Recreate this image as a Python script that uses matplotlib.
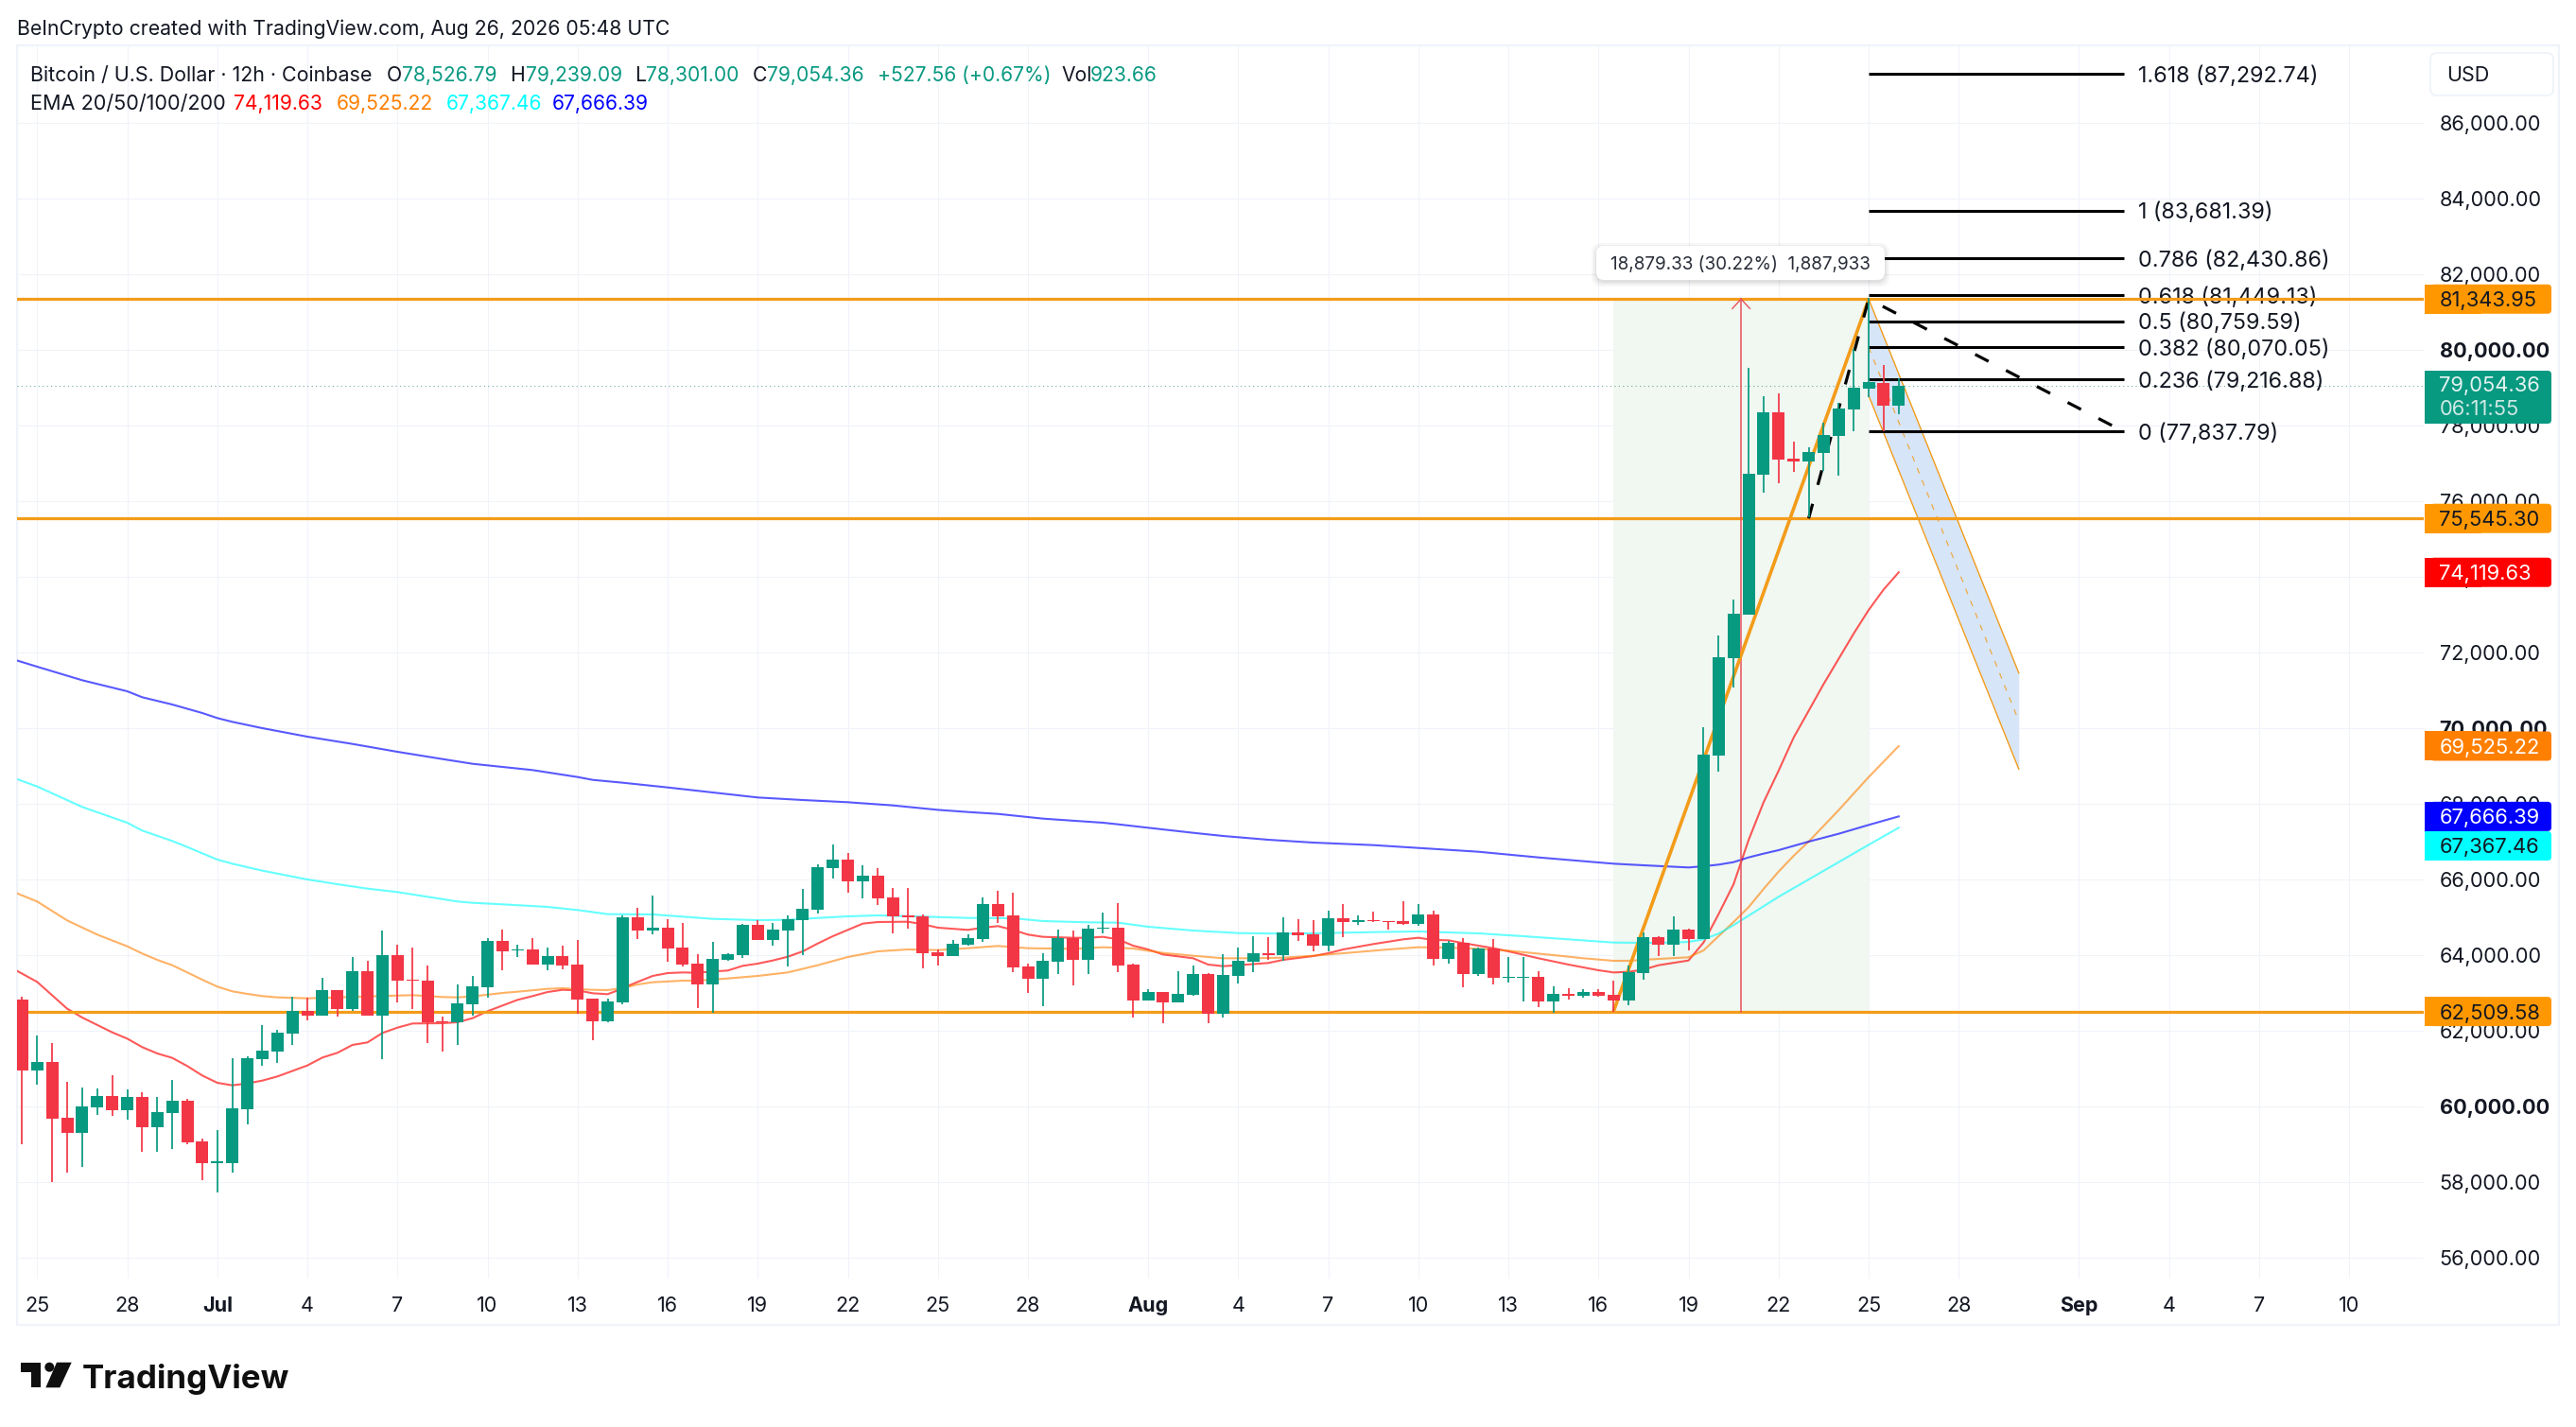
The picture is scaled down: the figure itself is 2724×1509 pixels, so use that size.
import numpy as np
import matplotlib
matplotlib.use("Agg")
import matplotlib.pyplot as plt
from matplotlib.patches import Rectangle, FancyBboxPatch, Circle, Polygon
from matplotlib.transforms import Affine2D

W, H = 2724, 1509
FONT = "Inter"
plt.rcParams["font.family"] = [FONT, "DejaVu Sans"]

# ---------- data ----------
first_bar = -1
opens = [62825, 60950, 61175, 59700, 59308, 59983, 60275, 59908, 60250, 59458,
         59825, 60150, 59075, 58508, 58508, 59933, 61250, 61450, 61925, 62525,
         62408, 63075, 62575, 63575, 62408, 64000, 63350, 63325, 62250, 62225,
         62700, 63150, 64375, 64125, 64150, 63750, 63975, 63750, 62850, 62250,
         62750, 65000, 64650, 64725, 64200, 63775, 63225, 63875, 64000, 64800,
         64400, 64650, 64925, 65200, 66300, 66525, 65950, 66100, 65525, 65050,
         65025, 64075, 63975, 64275, 64425, 65350, 65050, 63700, 63375, 63825,
         64450, 63875, 64700, 64725, 63750, 62800, 63025, 62750, 62950, 63500,
         62450, 63450, 63825, 64050, 64000, 64600, 64550, 64250, 64975, 64875,
         64925, 64900, 64900, 64825, 65075, 63900, 64325, 63500, 64175, 63400,
         63400, 63425, 62775, 62975, 62925, 63025, 62950, 62800, 63525, 64475,
         64275, 64675, 64425, 69283, 71858, 73008, 76708, 78350, 77125, 77050,
         77275, 77725, 78425, 78975, 79125, 78526.79]
highs = [62900, 61875, 61667, 60650, 60500, 60475, 60817, 60442, 60375, 60250,
         60692, 60200, 59150, 59375, 61267, 61333, 62150, 62025, 62900, 62875,
         63400, 63083, 63950, 63850, 64650, 64275, 64200, 63725, 62375, 63225,
         63450, 64450, 64675, 64275, 64450, 64200, 64250, 64400, 62850, 62850,
         65050, 65250, 65575, 64950, 64850, 64025, 64350, 64050, 64825, 64925,
         64850, 65050, 65750, 66400, 66925, 66700, 66375, 66300, 65775, 65775,
         65075, 64150, 64400, 64550, 65525, 65700, 65650, 63783, 64050, 64675,
         64650, 64800, 65125, 65375, 63775, 63100, 63025, 63575, 63725, 63525,
         64025, 64200, 64500, 64475, 65000, 64950, 64925, 65175, 65350, 65050,
         65150, 64900, 65425, 65350, 65175, 64375, 64450, 64200, 64417, 63950,
         63950, 63575, 63175, 63117, 63100, 63100, 63325, 63725, 64600, 64500,
         65025, 64700, 70017, 72458, 73400, 79525, 78775, 78850, 77575, 77417,
         78083, 78600, 80025, 81375, 79600, 79239.09]
lows = [59000, 60583, 58000, 58250, 58400, 59775, 59750, 59650, 58800, 58800,
        58875, 59000, 58050, 57725, 58250, 59525, 61083, 61150, 61625, 62275,
        62400, 62375, 62525, 62400, 61250, 62750, 62575, 61675, 61450, 61625,
        62400, 62875, 63600, 63950, 63750, 63600, 63625, 62450, 61750, 62225,
        62700, 64425, 64550, 63825, 63700, 62600, 62467, 63850, 63925, 64400,
        64250, 63700, 64000, 65100, 66025, 65650, 65500, 65325, 64575, 64700,
        63650, 63725, 63975, 64250, 64350, 64850, 63550, 63000, 62650, 63500,
        63200, 63500, 64575, 63550, 62350, 62800, 62200, 62750, 62925, 62200,
        62350, 63250, 63550, 63875, 63850, 64375, 64100, 64100, 64475, 64800,
        64875, 64675, 64800, 64775, 63725, 63775, 63150, 63450, 63225, 63275,
        62775, 62625, 62475, 62825, 62875, 62900, 62500, 62675, 63350, 63975,
        63975, 64125, 64425, 68858, 71083, 73008, 76233, 76483, 76775, 75567,
        76800, 76683, 77850, 78750, 77850, 78301.00]
closes = [60950, 61175, 59683, 59308, 60000, 60275, 59908, 60250, 59458, 59850,
          60150, 59042, 58508, 58525, 59950, 61275, 61475, 61950, 62525, 62408,
          63075, 62575, 63575, 62408, 64000, 63333, 63325, 62225, 62225, 62725,
          63175, 64375, 64100, 64150, 63750, 63975, 63725, 62825, 62250, 62775,
          65000, 64650, 64725, 64175, 63750, 63225, 63900, 64025, 64800, 64400,
          64675, 64950, 65225, 66325, 66525, 65950, 66100, 65500, 65025, 65000,
          64050, 63975, 64300, 64450, 65350, 65025, 63675, 63375, 63850, 64450,
          63875, 64700, 64725, 63725, 62800, 63025, 62750, 62975, 63500, 62450,
          63475, 63850, 64050, 64000, 64600, 64525, 64250, 64975, 64875, 64925,
          64900, 64875, 64825, 65075, 63900, 64325, 63500, 64175, 63400, 63425,
          63425, 62775, 62975, 62925, 63025, 62925, 62800, 63558, 64475, 64275,
          64675, 64425, 69300, 71875, 73025, 76725, 78350, 77108, 77058, 77300,
          77750, 78450, 79000, 79150, 78525, 79054.36]

ema20_x = [-1.34, 0, 2, 3, 5, 6, 7, 8, 9, 10, 11, 12, 13, 14, 15, 16, 18, 19, 20, 21, 22, 23, 24, 25, 27, 28, 29, 30, 31,
           32, 33, 34, 35, 36, 37, 38, 38.5, 40, 41, 42, 43, 44, 45, 46, 47, 48, 49, 50, 51, 52, 53, 54, 55, 56, 58, 59,
           60, 62, 63, 64, 65, 66, 67, 69, 70, 71, 72, 73, 74, 75, 77, 78, 79, 80, 82, 83, 85, 86, 87, 89, 91, 92, 93, 94,
           95, 96, 97, 98, 100, 102, 104, 105, 106, 107, 108, 110, 111, 112, 113, 114, 115, 116, 117, 118, 119, 120, 121,
           122, 123, 124]
ema20_y = [63583, 63292, 62583, 62350, 61958, 61792, 61567, 61400, 61283, 61067, 60817, 60625, 60558, 60608, 60683, 60792,
           61083, 61292, 61417, 61625, 61692, 61942, 62083, 62192, 62200, 62225, 62333, 62517, 62667, 62817, 62917, 63025,
           63083, 63067, 62992, 62967, 63042, 63292, 63450, 63525, 63542, 63533, 63567, 63592, 63717, 63775, 63858, 63958,
           64100, 64308, 64500, 64667, 64833, 64875, 64883, 64817, 64725, 64667, 64725, 64767, 64667, 64542, 64483, 64458,
           64458, 64483, 64417, 64250, 64150, 64017, 63917, 63750, 63708, 63733, 63792, 63875, 63975, 64050, 64150, 64292,
           64417, 64458, 64400, 64392, 64317, 64250, 64183, 64100, 63917, 63750, 63600, 63542, 63558, 63617, 63733, 63858,
           64333, 65083, 65875, 67042, 68042, 68875, 69750, 70458, 71167, 71833, 72500, 73125, 73667, 74119.63]
ema50_x = [-1.34, 0, 2, 4, 6, 7, 8, 9, 10, 11, 12, 13, 14, 15, 16, 18, 20, 22, 25, 27, 28, 29, 31, 32, 34, 35, 36, 37, 38,
           39, 40, 41, 43, 44, 46, 48, 50, 52, 54, 56, 58, 60, 62, 64, 66, 69, 71, 73, 75, 77, 79, 81, 83, 85, 88, 90, 92,
           94, 96, 98, 101, 103, 105, 106, 108, 110, 111, 112, 113, 114, 115, 116, 117, 118, 120, 122, 124]
ema50_y = [65633, 65417, 64917, 64542, 64233, 64042, 63875, 63733, 63542, 63350, 63167, 63042, 62975, 62917, 62883, 62858,
           62883, 62908, 62942, 62892, 62883, 62908, 63000, 63033, 63108, 63125, 63100, 63083, 63075, 63125, 63225, 63283,
           63325, 63325, 63383, 63450, 63542, 63733, 63950, 64100, 64150, 64133, 64183, 64242, 64183, 64167, 64208, 64175,
           64058, 63983, 63917, 63917, 63933, 63983, 64083, 64150, 64208, 64200, 64167, 64117, 64000, 63917, 63850, 63850,
           63900, 63942, 64125, 64500, 64875, 65267, 65750, 66208, 66625, 67000, 67833, 68708, 69525.22]
ema100_x = [-1.27, 0, 3, 6, 7, 9, 10, 12, 13, 15, 18, 20, 22, 24, 26, 28, 29, 31, 34, 36, 38, 41, 43, 45, 48, 50, 52, 54,
            56, 59, 62, 65, 67, 70, 72, 74, 77, 80, 83, 86, 89, 92, 94, 96, 99, 102, 105, 107, 109, 110, 111, 112, 113, 114,
            116, 118, 120, 122, 124]
ema100_y = [68642, 68458, 67917, 67500, 67292, 67017, 66858, 66525, 66417, 66233, 66000, 65875, 65758, 65667, 65542, 65417,
            65383, 65342, 65275, 65192, 65083, 65075, 65017, 64958, 64925, 64933, 64983, 65025, 65050, 65017, 64983, 64975,
            64900, 64867, 64858, 64750, 64650, 64583, 64567, 64583, 64608, 64625, 64600, 64575, 64500, 64417, 64333, 64325,
            64333, 64350, 64417, 64567, 64792, 65042, 65542, 66000, 66458, 66917, 67367.46]
ema200_x = [-1.3, 0, 3, 6, 7, 9, 11, 12, 13, 15, 18, 21, 24, 27, 29, 33, 36, 37, 39, 42, 45, 48, 51, 54, 57, 60, 62, 64, 67,
            71, 72, 74, 77, 79, 82, 85, 89, 92, 96, 100, 103, 105, 107, 110, 111, 112, 113, 114, 115, 116, 118, 120, 122, 124]
ema200_y = [71783, 71625, 71267, 70975, 70817, 70625, 70400, 70267, 70167, 70000, 69775, 69583, 69375, 69183, 69058, 68892,
            68708, 68633, 68558, 68433, 68300, 68167, 68100, 68042, 67958, 67840, 67783, 67733, 67608, 67500, 67458, 67367,
            67233, 67150, 67050, 66975, 66908, 66833, 66733, 66583, 66483, 66417, 66375, 66317, 66350, 66392, 66458, 66583,
            66683, 66775, 67000, 67208, 67442, 67666.39]

support_levels = [81343.95, 75545.30, 62509.58]
fib_ratios = ["1.618", "1", "0.786", "0.618", "0.5", "0.382", "0.236", "0"]
fib_prices = [87292.74, 83681.39, 82430.86, 81449.13, 80759.59, 80070.05, 79216.88, 77837.79]
last_price = 79054.36
zigzag_x = [105, 122]
zigzag_y = [62509.58, 81343.95]
dash_x = [118, 122, 139]
dash_y = [75545.30, 81343.95, 77837.79]
channel_x = [122, 132]
channel_top = [81343.95, 71458]
channel_bottom = [78790, 68917]
range_x = [105, 122]
range_y = [62509.58, 81343.95]
range_arrow_x = 113.5

tick_pos = [0, 6, 12, 18, 24, 30, 36, 42, 48, 54, 60, 66, 74, 80, 86, 92, 98, 104, 110, 116, 122, 128, 136, 142, 148, 154]
tick_lab = ["25", "28", "Jul", "4", "7", "10", "13", "16", "19", "22", "25", "28", "Aug", "4", "7", "10", "13", "16", "19",
            "22", "25", "28", "Sep", "4", "7", "10"]
y_ticks = list(range(56000, 88000, 2000))
y_bold = [60000, 70000, 80000]

# ---------- colours ----------
UP, DOWN, INK, GRID = "#089981", "#f23645", "#131722", "#f0f3fa"
GOLD = "#f39c1a"

# ---------- figure ----------
fig = plt.figure(figsize=(W / 100, H / 100), dpi=100, facecolor="white")
L, R, T, B = 18, 2563, 48, 1352
ax = fig.add_axes([L / W, (H - B) / H, (R - L) / W, (B - T) / H])
ax.set_xlim((L - 39.3) / 15.875, (R - 39.3) / 15.875)
ax.set_ylim(55450, 88050)
for s in ax.spines.values():
    s.set_visible(False)
ax.set_axisbelow(True)
ax.grid(True, color=GRID, lw=0.8)
ax.yaxis.tick_right()
ax.set_xticks(tick_pos)
ax.set_xticklabels(tick_lab, fontsize=15.5, color=INK)
ax.set_yticks(y_ticks)
ax.set_yticklabels([f"{v:,.2f}" for v in y_ticks], fontsize=15.6, color=INK, va="center_baseline")
ax.tick_params(axis="both", length=0)
ax.tick_params(axis="x", pad=14)
ax.tick_params(axis="y", pad=12)
for t, v in zip(ax.get_yticklabels(), y_ticks):
    t.set_va("center_baseline")
    if v in y_bold:
        t.set_fontweight("bold")
for t, s in zip(ax.get_xticklabels(), tick_lab):
    if not s.isdigit():
        t.set_fontweight("bold")

# pixel transform, top-down (used for chrome such as tags and logo)
PX = Affine2D().scale(1, -1).translate(0, H)

def price_py(p):
    return H - ax.transData.transform((0, p))[1]

# outer frame
ax.add_patch(Rectangle((18, 48), 2706 - 18, 1401 - 48, transform=PX, fill=False, ec=GRID, lw=1.6, clip_on=False, zorder=0.4))

# range tool
ax.fill_between(range_x, [range_y[0]] * 2, [range_y[1]] * 2, color="#f1f7f1", lw=0, zorder=1)
ax.plot(range_x, [range_y[1]] * 2, color="#ef5a3a", lw=1.0, zorder=1.2)
ax.plot([range_arrow_x] * 2, range_y, color="#e8505b", lw=1.1, zorder=2.3)
ax.plot([range_arrow_x - 0.58, range_arrow_x, range_arrow_x + 0.58],
        [range_y[1] - 250, range_y[1], range_y[1] - 250], color="#e8505b", lw=1.0, zorder=2.3)

# channel
ax.fill_between(channel_x, channel_bottom, channel_top, color="#d7e5f8", lw=0, zorder=1.5)
ax.plot(channel_x, channel_top, color=GOLD, lw=1.0, zorder=1.6)
ax.plot(channel_x, channel_bottom, color=GOLD, lw=1.0, zorder=1.6)
ax.plot(channel_x, [(a + b) / 2 for a, b in zip(channel_top, channel_bottom)],
        color=GOLD, lw=0.9, ls=(0, (5, 6)), alpha=0.8, zorder=1.6)

# last price
ax.axhline(last_price, color="#3f8f80", lw=0.8, ls=(0, (1, 3)), alpha=0.75, zorder=1.7)

# EMAs
ax.plot(ema20_x, ema20_y, color="#ff0000", alpha=0.65, lw=1.5, zorder=2)
ax.plot(ema50_x, ema50_y, color="#ff7f00", alpha=0.6, lw=1.5, zorder=2)
ax.plot(ema100_x, ema100_y, color="#00ffff", alpha=0.6, lw=1.5, zorder=2)
ax.plot(ema200_x, ema200_y, color="#0000ff", alpha=0.65, lw=1.5, zorder=2)

# support lines
for lvl in support_levels:
    ax.axhline(lvl, color=GOLD, lw=2.3, zorder=2.2)

# zigzag + dashed path
ax.plot(zigzag_x, zigzag_y, color=GOLD, lw=2.6, zorder=2.4, solid_capstyle="butt")
ax.plot(dash_x, dash_y, color="black", lw=2.3, ls=(0, (5, 6.5)), zorder=2.6)

# fib
for r, p in zip(fib_ratios, fib_prices):
    ax.plot([122, 139], [p, p], color="black", lw=2.2, zorder=2.5, solid_capstyle="butt")
    ax.text(139.95, p, f"{r} ({p:,.2f})", fontsize=16.8, color=INK, va="center_baseline", ha="left", zorder=2.1)

# candles
bars = np.arange(first_bar, first_bar + len(opens))
o, h, l, c = map(np.array, (opens, highs, lows, closes))
cols = [UP if ci >= oi else DOWN for oi, ci in zip(o, c)]
ax.vlines(bars, l, h, colors=cols, lw=1.25, zorder=3)
ax.bar(bars, np.maximum(np.abs(c - o), 30), bottom=np.minimum(o, c), width=0.82, color=cols, lw=0, zorder=3.1)

# tooltip
for off, a in ((5, 0.03), (3, 0.04), (1, 0.05)):
    ax.add_patch(FancyBboxPatch((1688 - off, 260 - off + 2), 305 + 2 * off, 36 + 2 * off, boxstyle="round,pad=0,rounding_size=10",
                                transform=PX, fc="black", ec="none", alpha=a, zorder=5))
ax.add_patch(FancyBboxPatch((1688, 260), 305, 36, boxstyle="round,pad=0,rounding_size=8", transform=PX, fc="white", ec="none", zorder=5.1))
ax.text(1840.5, 278, "18,879.33 (30.22%)  1,887,933", transform=PX, fontsize=13.6, color="#2a2e39", ha="center", va="center_baseline", zorder=5.2)

# USD box
ax.add_patch(FancyBboxPatch((2570, 56), 130, 45, boxstyle="round,pad=0,rounding_size=7", transform=PX, fc="white", ec=GRID, lw=1.4, clip_on=False, zorder=5))
ax.text(2587, 78.5, "USD", transform=PX, fontsize=15.5, color=INK, va="center_baseline", ha="left", clip_on=False, zorder=5.2)

# price tags
def tag(text, centre, fc, tc, h=31):
    top = centre - h / 2
    ax.add_patch(Rectangle((2564, top), 60, h, transform=PX, fc=fc, ec="none", clip_on=False, zorder=5))
    ax.add_patch(FancyBboxPatch((2570, top), 128, h, boxstyle="round,pad=0,rounding_size=4", transform=PX, fc=fc, ec="none", clip_on=False, zorder=5))
    ax.text(2579.5, centre, text, transform=PX, fontsize=15.8, color=tc, va="center_baseline", ha="left", clip_on=False, zorder=5.2)

tag("81,343.95", price_py(81343.95), "#ff9800", INK)
tag("75,545.30", price_py(75545.30), "#ff9800", INK)
tag("74,119.63", price_py(74119.63), "#ff0000", "white")
tag("69,525.22", price_py(69525.22), "#ff7f00", "white")
tag("67,666.39", price_py(67666.39), "#0000ff", "white")
tag("67,367.46", 894.5, "#00ffff", INK)
tag("62,509.58", price_py(62509.58), "#ff9800", INK)
ax.add_patch(Rectangle((2564, 392), 60, 56, transform=PX, fc=UP, ec="none", clip_on=False, zorder=5))
ax.add_patch(FancyBboxPatch((2570, 392), 128, 56, boxstyle="round,pad=0,rounding_size=4", transform=PX, fc=UP, ec="none", clip_on=False, zorder=5))
ax.text(2579.5, 406, "79,054.36", transform=PX, fontsize=15.8, color="#e3f3f0", va="center_baseline", ha="left", clip_on=False, zorder=5.2)
ax.text(2579.5, 431, "06:11:55", transform=PX, fontsize=15.8, color="#cfe9e4", va="center_baseline", ha="left", clip_on=False, zorder=5.2)

# header
fig.text(18, 29, "BeInCrypto created with TradingView.com, Aug 26, 2026 05:48 UTC", transform=PX, fontsize=15.27, color=INK, va="center_baseline")

def seg(x, y, s, col=INK, size=15.2):
    fig.text(x, y, s, transform=PX, fontsize=size, color=col, va="center_baseline", ha="left")

Y1, Y2 = 78, 108
seg(32, Y1, "Bitcoin / U.S. Dollar · 12h · Coinbase", size=15.45)
seg(409, Y1, "O"); seg(425, Y1, "78,526.79", UP)
seg(539.5, Y1, "H"); seg(556, Y1, "79,239.09", UP)
seg(671, Y1, "L"); seg(683, Y1, "78,301.00", UP)
seg(796, Y1, "C"); seg(811, Y1, "79,054.36", UP)
seg(927.5, Y1, "+527.56 (+0.67%)", UP)
seg(1122.6, Y1, "Vol"); seg(1153, Y1, "923.66", UP)
seg(32, Y2, "EMA 20/50/100/200", size=15.6)
seg(247, Y2, "74,119.63", "#ff0000")
seg(356, Y2, "69,525.22", "#ff7f00")
seg(472, Y2, "67,367.46", "#00ffff")
seg(584, Y2, "67,666.39", "#0000ff")

# logo
LOGO = "#0f0f0f"
fig.add_artist(Rectangle((21.7, 1440.7), 21.6, 10.3, transform=PX, fc=LOGO, ec="none"))
fig.add_artist(Rectangle((32.7, 1440.7), 10.6, 26.5, transform=PX, fc=LOGO, ec="none"))
fig.add_artist(Circle((52.3, 1445.7), 5, transform=PX, fc=LOGO, ec="none"))
fig.add_artist(Polygon([(60, 1440.7), (75.7, 1440.7), (63.3, 1467.3), (48.3, 1467.3)], transform=PX, fc=LOGO, ec="none"))
fig.text(87, 1468, "TradingView", transform=PX, fontsize=25.2, fontweight="bold", color=LOGO, va="baseline", ha="left")

fig.savefig("out.png", dpi=100, facecolor="white")
